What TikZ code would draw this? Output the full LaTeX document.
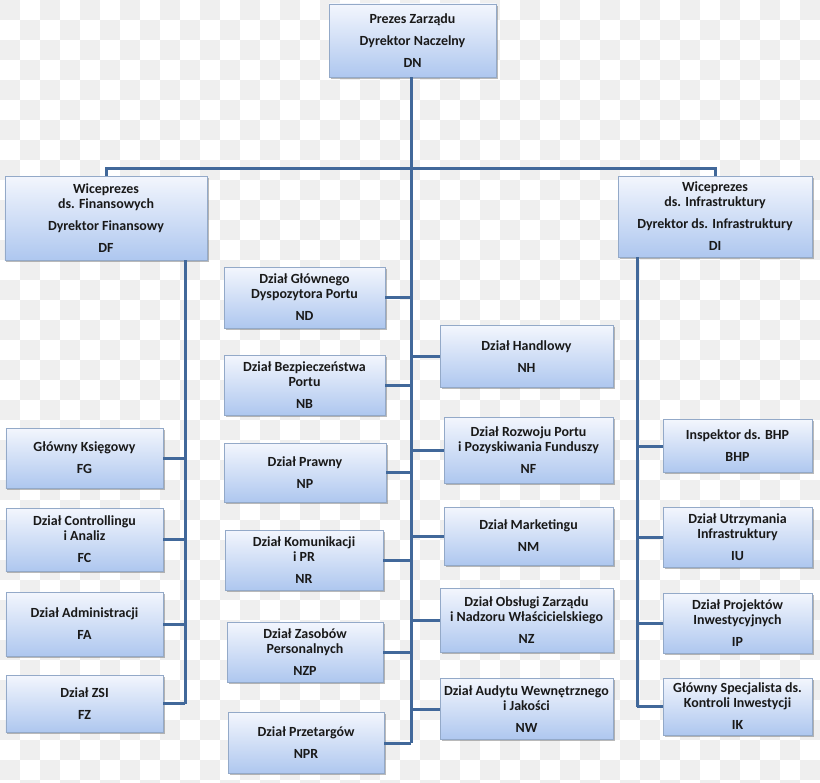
\documentclass[tikz,border=0pt]{standalone}
\usepackage{fontspec}
\setmainfont{Carlito}
\usetikzlibrary{shadows}
\definecolor{conn}{HTML}{41689A}
\definecolor{bord}{HTML}{93A9C8}
\definecolor{topc}{HTML}{F3F6FD}
\definecolor{botc}{HTML}{AEC7EF}
\definecolor{chk}{HTML}{EFEFEF}
\tikzset{
  orgbox/.style={draw=bord, line width=0.8bp, top color=topc, bottom color=botc,
    rectangle, inner sep=0pt, align=center, text=black!90,
    font=\fontsize{14}{15}\selectfont\bfseries,
    drop shadow={shadow xshift=1.5bp, shadow yshift=-1.8bp, opacity=0.45, fill=black!60}},
  link/.style={draw=conn, line width=3bp}
}
\newcommand{\pg}{\\[7bp]}
\begin{document}
\begin{tikzpicture}[x=1bp,y=-1bp]
\useasboundingbox (0,0) rectangle (820,783);
% checkerboard background
\begin{scope}
\clip (0,0) rectangle (820,783);
\foreach \i in {0,...,40}{
  \pgfmathtruncatemacro\s{mod(\i,2)}
  \foreach \k in {0,...,19}{
    \fill[chk] (\i*20, 40*\k+20*\s) rectangle ++(20,20);
  }
}
\end{scope}

% top
\node[orgbox, minimum width=167bp, minimum height=73bp] (DN) at (412.5,40.5)
  {Prezes Zarządu\pg Dyrektor Naczelny\pg DN};
\node[orgbox, minimum width=202bp, minimum height=84bp] (DF) at (106,218)
  {Wiceprezes\\ds. Finansowych\pg Dyrektor Finansowy\pg DF};
\node[orgbox, minimum width=194bp, minimum height=81bp] (DI) at (715,216.5)
  {Wiceprezes\\ds. Infrastruktury\pg Dyrektor ds. Infrastruktury\pg DI};

% finance column
\node[orgbox, minimum width=157bp, minimum height=60bp] (FG) at (84.5,458) {Główny Księgowy\pg FG};
\node[orgbox, minimum width=157bp, minimum height=63bp] (FC) at (84.5,539.5) {Dział Controllingu\\i Analiz\pg FC};
\node[orgbox, minimum width=157bp, minimum height=64bp] (FA) at (84.5,624) {Dział Administracji\pg FA};
\node[orgbox, minimum width=157bp, minimum height=57bp] (FZ) at (84.5,703.5) {Dział ZSI\pg FZ};

% middle left column
\node[orgbox, minimum width=161bp, minimum height=61bp] (ND) at (304.5,297.5) {Dział Głównego\\Dyspozytora Portu\pg ND};
\node[orgbox, minimum width=161bp, minimum height=60bp] (NB) at (304.5,385) {Dział Bezpieczeństwa\\Portu\pg NB};
\node[orgbox, minimum width=162bp, minimum height=59bp] (NP) at (305,472.5) {Dział Prawny\pg NP};
\node[orgbox, minimum width=158bp, minimum height=60bp] (NR) at (304,560) {Dział Komunikacji\\i PR\pg NR};
\node[orgbox, minimum width=156bp, minimum height=60bp] (NZP) at (305,652) {Dział Zasobów\\Personalnych\pg NZP};
\node[orgbox, minimum width=156bp, minimum height=61bp] (NPR) at (306,743) {Dział Przetargów\pg NPR};

% middle right column
\node[orgbox, minimum width=173bp, minimum height=62bp] (NH) at (526.5,356.5) {Dział Handlowy\pg NH};
\node[orgbox, minimum width=169bp, minimum height=66bp] (NF) at (528.5,450) {Dział Rozwoju Portu\\i Pozyskiwania Funduszy\pg NF};
\node[orgbox, minimum width=169bp, minimum height=58bp] (NM) at (528.5,536) {Dział Marketingu\pg NM};
\node[orgbox, minimum width=173bp, minimum height=64bp] (NZ) at (526.5,620) {Dział Obsługi Zarządu\\i Nadzoru Właścicielskiego\pg NZ};
\node[orgbox, minimum width=173bp, minimum height=61bp] (NW) at (526.5,709) {Dział Audytu Wewnętrznego\\i Jakości\pg NW};

% infrastructure column
\node[orgbox, minimum width=149bp, minimum height=53bp] (BHP) at (737.5,446) {Inspektor ds. BHP\pg BHP};
\node[orgbox, minimum width=149bp, minimum height=60bp] (IU) at (737.5,537) {Dział Utrzymania\\Infrastruktury\pg IU};
\node[orgbox, minimum width=149bp, minimum height=60bp] (IP) at (737.5,623) {Dział Projektów\\Inwestycyjnych\pg IP};
\node[orgbox, minimum width=149bp, minimum height=57bp] (IK) at (737.5,706.5) {Główny Specjalista ds.\\Kontroli Inwestycji\pg IK};

% connectors
\coordinate (trunk) at (411,77);
\coordinate (bar) at (411,168);
\coordinate (fb) at (185,260);
\coordinate (ib) at (637,257);
\draw[link] (trunk) -- (trunk |- NPR.east);
\draw[link, line join=miter] (DF.north) |- (bar) -| (DI.north);
\draw[link] (fb) -- (fb |- FZ.east);
\draw[link] (ib) -- (ib |- IK.west);
\foreach \n in {FG,FC,FA,FZ}{\draw[link] (\n.east) -- (\n.east -| fb);}
\foreach \n in {ND,NB,NP,NR,NZP,NPR}{\draw[link] (\n.east) -- (\n.east -| trunk);}
\foreach \n in {NH,NF,NM,NZ,NW}{\draw[link] (\n.west) -- (\n.west -| trunk);}
\foreach \n in {BHP,IU,IP,IK}{\draw[link] (\n.west) -- (\n.west -| ib);}
\end{tikzpicture}
\end{document}
